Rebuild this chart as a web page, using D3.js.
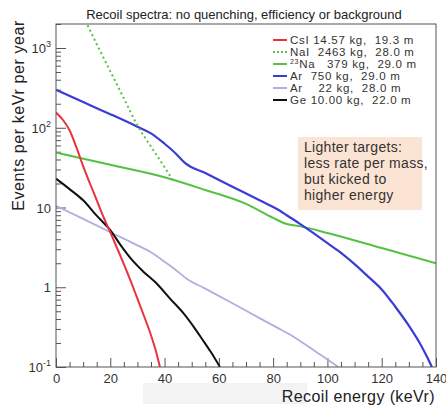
<!DOCTYPE html>
<html>
<head>
<meta charset="utf-8">
<script src="https://cdn.jsdelivr.net/npm/d3@7"></script>
<style>
  body { margin: 0; background: #fff; }
  svg { display: block; font-family: "Liberation Sans", Arial, Helvetica, sans-serif; }
  text.pre { white-space: pre; }
</style>
</head>
<body>
<svg id="chart" width="446" height="407"></svg>
<script>
// Recoil energy (keVr) and rate (events / keVr / year) for each target
const csiE   = [0, 2.5, 5, 7.5, 10, 12.5, 15, 17.5, 20, 22.5, 25, 27.5, 30, 32.5, 35, 37, 38.3];
const csiR   = [155, 126, 93, 57, 33, 20, 12.4, 7.6, 4.9, 3.1, 1.95, 1.2, 0.72, 0.43, 0.25, 0.15, 0.1];

const naiE   = [10, 15, 20, 25, 30, 35, 40, 43];
const naiR   = [2500, 1120, 510, 234, 107, 58, 32, 22];

const na23E  = [0, 20, 40, 55, 70, 80, 85, 90, 100, 120, 140];
const na23R  = [49, 34.3, 24, 16.6, 11.1, 7.4, 6.2, 5.8, 4.8, 3.1, 2.0];

const ar750E = [0, 10, 20, 30, 35, 40, 44, 47.5, 55, 65, 75, 82.5, 85, 90, 95, 100, 105, 110, 115, 120, 125, 130, 134, 136.5, 138.5];
const ar750R = [299, 210, 148, 103, 85, 63, 48, 36.3, 27, 18.2, 12.3, 9.1, 8.0, 6.2, 4.74, 3.57, 2.7, 1.95, 1.36, 0.94, 0.57, 0.33, 0.2, 0.138, 0.1];

const ar22E  = [0, 10, 20, 30, 35, 40, 44, 48, 55, 65, 75, 82, 86, 92, 98, 104];
const ar22R  = [10.5, 7.2, 4.9, 3.35, 2.75, 2.09, 1.66, 1.29, 0.96, 0.63, 0.41, 0.305, 0.257, 0.19, 0.138, 0.1];

const geE    = [0, 5, 10, 15, 20, 24, 28, 32, 37, 42, 47, 51, 54, 57, 60.4];
const geR    = [23, 17, 12.3, 7.9, 5.2, 3.3, 2.2, 1.59, 1.12, 0.72, 0.47, 0.31, 0.22, 0.155, 0.1];

const seriesNames  = ["CsI", "NaI", "Na23", "Ar750", "Ar22", "Ge"];
const legendLabels = ["CsI 14.57 kg,  19.3 m", "NaI  2463 kg,  28.0 m", "Na   379 kg,  29.0 m",
                      "Ar  750 kg,  29.0 m", "Ar    22 kg,  28.0 m", "Ge 10.00 kg,  22.0 m"];
const seriesColors = ["#e8333f", "#55c142", "#55c142", "#3b3bd6", "#aeb0e0", "#111111"];

const xTicks = [0, 20, 40, 60, 80, 100, 120, 140];
const yTicks = [0.1, 1, 10, 100, 1000];
const yTickLabels = [["10", "-1"], ["1", ""], ["10", ""], ["10", "2"], ["10", "3"]];

const title  = "Recoil spectra: no quenching, efficiency or background";
const xTitle = "Recoil energy (keVr)";
const yTitle = "Events per keVr per year";
const note   = ["Lighter targets:", "less rate per mass,", "but kicked to", "higher energy"];

// ---- layout ----
const frame = { left: 56, right: 436, top: 24, bottom: 367 };
const svg = d3.select("#chart");

const x = d3.scaleLinear().domain([0, 140]).range([frame.left, frame.right]);
const y = d3.scaleLog().domain([0.1, 2000]).range([frame.bottom, frame.top]);

svg.append("defs").append("clipPath").attr("id", "plotArea")
  .append("rect")
  .attr("x", frame.left).attr("y", frame.top)
  .attr("width", frame.right - frame.left).attr("height", frame.bottom - frame.top);

// faint band under the x labels
svg.append("rect").attr("x", 143).attr("y", 383).attr("width", 164).attr("height", 21)
  .attr("fill", "#f3f3f3");

// title
svg.append("text").attr("x", 244).attr("y", 19).attr("text-anchor", "middle")
  .attr("font-size", 13).attr("fill", "#222").text(title);

// annotation box
const noteG = svg.append("g");
noteG.append("rect").attr("x", 298).attr("y", 137).attr("width", 124).attr("height", 73)
  .attr("fill", "#fce4d4");
noteG.selectAll("text").data(note).join("text")
  .attr("x", 304).attr("y", (d, i) => 152 + i * 16)
  .attr("font-size", 14).attr("letter-spacing", 0.3).attr("fill", "#333").text(d => d);

// x axis ticks (inward)
const xAxisMinor = d3.axisBottom(x).tickValues(d3.range(0, 141, 5).filter(v => v % 20 !== 0))
  .tickSize(-5).tickFormat("");
const xAxisMajor = d3.axisBottom(x).tickValues(xTicks).tickSize(-9).tickPadding(7);
const gxMinor = svg.append("g").attr("transform", `translate(0,${frame.bottom})`).call(xAxisMinor);
const gx = svg.append("g").attr("transform", `translate(0,${frame.bottom})`).call(xAxisMajor);
[gxMinor, gx].forEach(g => {
  g.select(".domain").remove();
  g.selectAll("line").attr("stroke", "#555");
});
gx.selectAll("text").attr("font-size", 13).attr("fill", "#333");

// y axis ticks (inward)
const yMinorVals = [];
[0.1, 1, 10, 100, 1000].forEach(d => { for (let k = 2; k <= 9; k++) if (d * k <= 2000) yMinorVals.push(d * k); });
const yAxisMinor = d3.axisLeft(y).tickValues(yMinorVals).tickSize(-5).tickFormat("");
const yAxisMajor = d3.axisLeft(y).tickValues(yTicks).tickSize(-10).tickFormat("");
const gyMinor = svg.append("g").attr("transform", `translate(${frame.left},0)`).call(yAxisMinor);
const gy = svg.append("g").attr("transform", `translate(${frame.left},0)`).call(yAxisMajor);
[gyMinor, gy].forEach(g => {
  g.select(".domain").remove();
  g.selectAll("line").attr("stroke", "#555");
});

// y tick labels with exponents
yTicks.forEach((v, i) => {
  const [base, exp] = yTickLabels[i];
  const t = svg.append("text").attr("x", 51).attr("y", y(v) + 5)
    .attr("text-anchor", "end").attr("font-size", 13).attr("fill", "#333");
  t.append("tspan").text(base);
  if (exp) t.append("tspan").attr("dy", -6).attr("font-size", 9).text(exp);
});

// axis titles
svg.append("text").attr("x", 435).attr("y", 402).attr("text-anchor", "end")
  .attr("font-size", 16).attr("letter-spacing", 0.4).attr("fill", "#222").text(xTitle);
svg.append("text").attr("transform", "translate(24,20) rotate(-90)")
  .attr("text-anchor", "end").attr("font-size", 16).attr("letter-spacing", 0.6)
  .attr("fill", "#222").text(yTitle);

// spectra
const line = d3.line().x(d => x(d[0])).y(d => y(d[1])).curve(d3.curveMonotoneX);
const curves = [
  { e: na23E,  r: na23R,  c: seriesColors[2], w: 2,   dash: null },
  { e: ar22E,  r: ar22R,  c: seriesColors[4], w: 1.8, dash: null },
  { e: ar750E, r: ar750R, c: seriesColors[3], w: 2.2, dash: null },
  { e: geE,    r: geR,    c: seriesColors[5], w: 2,   dash: null },
  { e: csiE,   r: csiR,   c: seriesColors[0], w: 2,   dash: null },
  { e: naiE,   r: naiR,   c: seriesColors[1], w: 2,   dash: "2,3" }
];
const plot = svg.append("g").attr("clip-path", "url(#plotArea)");
curves.forEach(s => {
  plot.append("path")
    .datum(s.e.map((e, i) => [e, s.r[i]]))
    .attr("d", line)
    .attr("fill", "none")
    .attr("stroke", s.c)
    .attr("stroke-width", s.w)
    .attr("stroke-dasharray", s.dash);
});

// frame
svg.append("rect").attr("x", frame.left).attr("y", frame.top)
  .attr("width", frame.right - frame.left).attr("height", frame.bottom - frame.top)
  .attr("fill", "none").attr("stroke", "#555").attr("stroke-width", 1);

// legend
const legend = svg.append("g");
legendLabels.forEach((lab, i) => {
  const cy = 40 + i * 12;
  legend.append("line").attr("x1", 273).attr("x2", 287).attr("y1", cy).attr("y2", cy)
    .attr("stroke", seriesColors[i]).attr("stroke-width", 2)
    .attr("stroke-dasharray", seriesNames[i] === "NaI" ? "2,2" : null);
  const t = legend.append("text").attr("class", "pre").attr("x", 290).attr("y", cy + 4)
    .attr("font-size", 11.5).attr("letter-spacing", 0.7).attr("fill", "#333");
  if (seriesNames[i] === "Na23") {
    t.append("tspan").attr("font-size", 7).attr("dy", -4).text("23");
    t.append("tspan").attr("dy", 4).text(lab);
  } else {
    t.text(lab);
  }
});
</script>
</body>
</html>
